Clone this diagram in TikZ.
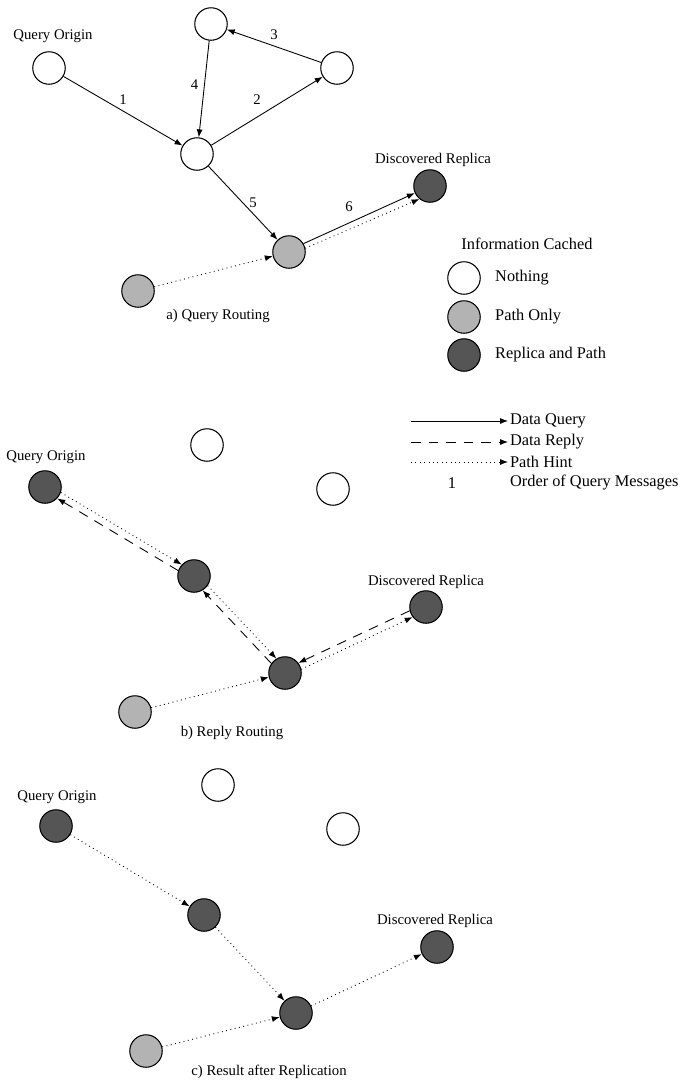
\documentclass[tikz,border=0pt]{standalone}
\usepackage{fontspec}
\setmainfont{Liberation Serif}
\usepackage{tikz}
\usetikzlibrary{arrows.meta}
\definecolor{darkfill}{RGB}{85,85,85}
\definecolor{lightfill}{RGB}{179,179,179}

\begin{document}
\begin{tikzpicture}[x=0.02cm, y=-0.02cm,
  peer/.style={circle, draw, line width=0.6pt, minimum size=0.65cm, inner sep=0pt},
  wpeer/.style={peer, fill=white},
  gpeer/.style={peer, fill=lightfill},
  dpeer/.style={peer, fill=darkfill},
  lbl/.style={font=\fontsize{8.4}{10}\selectfont},
  lgd/.style={font=\fontsize{9.3}{11}\selectfont},
  msg/.style={line width=0.5pt, -{Latex[length=4.5pt, width=3.4pt]}},
  qry/.style={msg},
  rpl/.style={msg, dash pattern=on 5.5pt off 4.5pt},
  hnt/.style={msg, dotted}]
\useasboundingbox (0,0) rectangle (680,1082);

\node[wpeer] (Oa) at (49,68) {};
\node[wpeer] (Ta) at (211,24) {};
\node[wpeer] (Ra) at (337,68) {};
\node[wpeer] (Ca) at (197,154) {};
\node[gpeer] (Ha) at (289,252) {};
\node[gpeer] (Ga) at (138,291) {};
\node[dpeer] (Da) at (430,186) {};
\node[lbl] (OLa) at (53,36) {Query Origin};
\node[lbl] (DLa) at (433,160) {Discovered Replica};
\node[lbl] (CapA) at (218,316) {a) Query Routing};
\draw [qry] (Oa) -- node[pos=0.5, above, lbl] {1} (Ca);
\draw [qry] (Ca) -- node[pos=0.5, above left, lbl] {2} (Ra);
\draw [qry] (Ra) -- node[pos=0.5, above, lbl] {3} (Ta);
\draw [qry] (Ta) -- node[pos=0.45, left, lbl] {4} (Ca);
\draw [qry] (Ca) -- node[pos=0.5, right, lbl] {5} (Ha);
\draw [qry] (Ha.30) -- node[pos=0.5, above left, lbl] {6} (Da.205);
\draw [hnt] (Ha.13) -- (Da.231);
\draw [hnt] (Ga) -- (Ha);

\node[lgd] (LH) at (527,244) {Information Cached};
\node[wpeer] (LN) at (464,278) {};
\node[gpeer] (LP) at (464,317) {};
\node[dpeer] (LR) at (464,355) {};
\node[lgd, anchor=west] (LNt) at (489,278) {Nothing};
\node[lgd, anchor=west] (LPt) at (489,317) {Path Only};
\node[lgd, anchor=west] (LRt) at (489,355) {Replica and Path};
\coordinate (Qs) at (411,421);
\coordinate (Ys) at (411,442);
\coordinate (Hs) at (411,462);
\node[lgd, anchor=west, inner sep=1pt] (Qt) at (508,421) {Data Query};
\node[lgd, anchor=west, inner sep=1pt] (Yt) at (508,442) {Data Reply};
\node[lgd, anchor=west, inner sep=1pt] (Ht) at (508,462) {Path Hint};
\node[lgd] (On) at (452,483) {1};
\node[lgd, anchor=west, inner sep=1pt] (Ot) at (508,483) {Order of Query Messages};
\draw [qry] (Qs) -- (Qt.west);
\draw [rpl] (Ys) -- (Yt.west);
\draw [hnt] (Hs) -- (Ht.west);

\node[wpeer] (Tb) at (207,445) {};
\node[wpeer] (Rb) at (333,489) {};
\node[dpeer] (Ob) at (45,487) {};
\node[dpeer] (Cb) at (194,576) {};
\node[dpeer] (Hb) at (285,673) {};
\node[dpeer] (Db) at (426,607) {};
\node[gpeer] (Gb) at (135,712) {};
\node[lbl] (OLb) at (46,457) {Query Origin};
\node[lbl] (DLb) at (426,582) {Discovered Replica};
\node[lbl] (CapB) at (232,733) {b) Reply Routing};
\draw [hnt] (Ob.-19) -- (Cb.137);
\draw [rpl] (Cb.161) -- (Ob.-43);
\draw [hnt] (Cb.-35) -- (Hb.121);
\draw [rpl] (Hb.145) -- (Cb.-59);
\draw [hnt] (Hb.13) -- (Db.217);
\draw [rpl] (Db.193) -- (Hb.37);
\draw [hnt] (Gb) -- (Hb);

\node[wpeer] (Tc) at (218,785) {};
\node[wpeer] (Rc) at (343,829) {};
\node[dpeer] (Oc) at (56,826) {};
\node[dpeer] (Cc) at (204,915) {};
\node[dpeer] (Hc) at (296,1013) {};
\node[dpeer] (Dc) at (437,947) {};
\node[gpeer] (Gc) at (146,1051) {};
\node[lbl] (OLc) at (57,797) {Query Origin};
\node[lbl] (DLc) at (435,921) {Discovered Replica};
\node[lbl] (CapC) at (269,1072) {c) Result after Replication};
\draw [hnt] (Oc) -- (Cc);
\draw [hnt] (Cc) -- (Hc);
\draw [hnt] (Hc) -- (Dc);
\draw [hnt] (Gc) -- (Hc);
\end{tikzpicture}
\end{document}
